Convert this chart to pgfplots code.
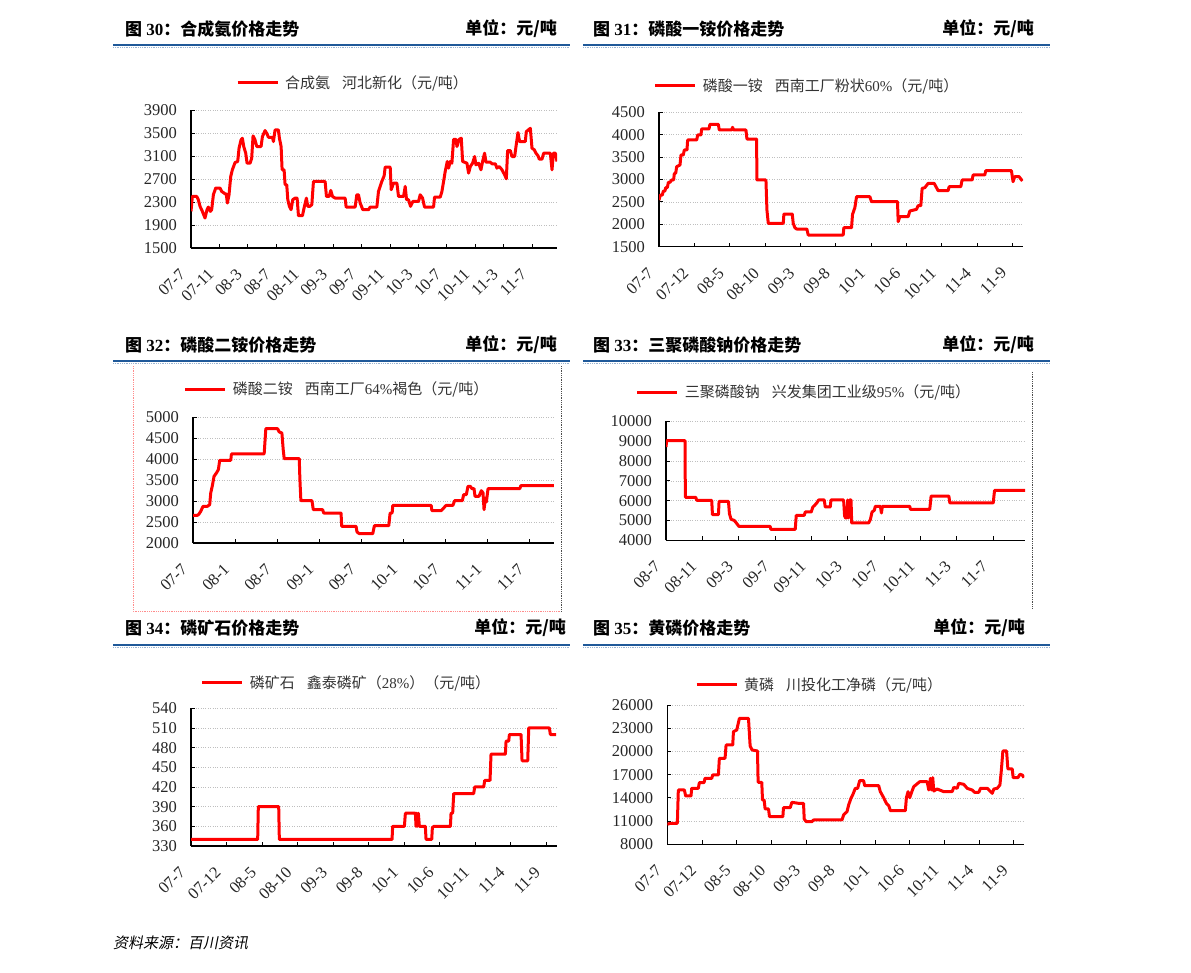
\documentclass[border=0pt]{standalone}
\usepackage{fontspec}
\setmainfont{Liberation Serif}
\newfontfamily\cjk{Noto Sans CJK SC}
\newfontfamily\cjkit{Noto Sans CJK SC}[FakeSlant=0.2]
\usepackage{pgfplots}
\pgfplotsset{compat=1.18}
\definecolor{hdrblue}{RGB}{31,89,153}
\definecolor{sred}{RGB}{255,0,0}

\newcommand{\hfont}{\fontsize{17}{20}\selectfont\bfseries}
\newcommand{\header}[5]{%
  \node[anchor=west, inner sep=0pt] at (#1pt,-#2pt) {\hfont{\cjk 图}\hspace{0.25em}#3{\cjk ：#4}};
  \node[anchor=east, inner sep=0pt] at (#5pt,-#2pt) {\hfont\cjk 单位：元/吨};
}

\pgfplotsset{
  pc/.style={
    scale only axis, anchor=south west,
    xmin=0, xmax=51.5,
    axis lines=left,
    axis line style={-, black, line width=1.1pt},
    tick align=inside, major tick length=4pt,
    tick style={black, line width=0.9pt},
    ymajorgrids,
    major grid style={black!25, dotted, line width=0.6pt},
    scaled y ticks=false,
    /pgf/number format/fixed,
    /pgf/number format/1000 sep={},
    /pgf/number format/assume math mode=true,
    tick label style={font=\fontsize{16.5}{18}\selectfont, text=black!85},
    yticklabel style={anchor=east, inner sep=0pt, xshift=-14pt},
    xticklabel style={xshift=-8.5pt, yshift=-23.5pt, rotate=45, anchor=east, inner sep=0pt},
    legend style={draw=none, fill=none, inner sep=0pt, outer sep=0pt, anchor=west,
      font=\fontsize{15}{17}\selectfont, text=black!80, nodes={inner sep=0pt}},
    legend image code/.code={\draw[#1] (0pt,0pt) -- (40pt,0pt); \path (46pt,0pt);},
  },
  ser/.style={sred, line width=3pt, line join=round},
}

\begin{document}
\begin{tikzpicture}
\path[use as bounding box] (0,0) rectangle (1191pt,-972pt);

% headers and rules
\header{125}{29}{30}{合成氨价格走势}{557}
\header{593}{29}{31}{磷酸一铵价格走势}{1034}
\header{125}{345}{32}{磷酸二铵价格走势}{557}
\header{593}{345}{33}{三聚磷酸钠价格走势}{1034}
\header{125}{628}{34}{磷矿石价格走势}{566}
\header{593}{628}{35}{黄磷价格走势}{1025}
\foreach \yy in {45,361,645} {
  \draw[hdrblue, line width=2.5pt] (113pt,-\yy pt) -- (570pt,-\yy pt);
  \draw[hdrblue!45, line width=0.8pt, densely dotted] (113pt,-\yy pt-2.2pt) -- (570pt,-\yy pt-2.2pt);
  \draw[hdrblue, line width=2.5pt] (583pt,-\yy pt) -- (1050pt,-\yy pt);
  \draw[hdrblue!45, line width=0.8pt, densely dotted] (583pt,-\yy pt-2.2pt) -- (1050pt,-\yy pt-2.2pt);
}
\draw[red!45, densely dotted, line width=0.8pt] (133pt,-366pt) -- (133pt,-611pt) -- (561pt,-611pt);
\draw[black!70, densely dotted, line width=0.8pt] (561pt,-366pt) -- (561pt,-611pt);
\draw[black!70, densely dotted, line width=0.8pt] (1032pt,-372pt) -- (1032pt,-608pt);

% Fig 30
\begin{axis}[pc, at={(191pt,-248pt)}, width=366pt, height=138pt,
  ymin=1500, ymax=3900, ytick={1500,1900,...,3900},
  xtick={0,4,...,48},
  xticklabels={07-7,07-11,08-3,08-7,08-11,09-3,09-7,09-11,10-3,10-7,10-11,11-3,11-7},
  legend style={at={(0.123,1.196)}}]
\addplot[ser] coordinates {
(0,2137)(0.19,2397)(0.80,2397)(1.03,2340)(1.27,2224)(1.60,2137)(1.97,2021)(2.25,2166)(2.44,2212)(2.72,2137)(2.91,2166)(3.15,2426)(3.47,2542)(4.08,2542)(4.32,2484)(4.79,2443)(4.95,2443)(5.12,2282)(5.35,2426)(5.59,2744)(5.82,2860)(6.20,2987)(6.57,3005)(6.76,3236)(7.04,3380)(7.23,3409)(7.42,3265)(7.70,3149)(7.89,2975)(8.31,2975)(8.54,3062)(8.73,3449)(9.01,3380)(9.25,3265)(9.86,3265)(10.05,3438)(10.42,3542)(10.66,3495)(10.89,3426)(11.46,3426)(11.60,3351)(11.83,3553)(12.30,3553)(12.44,3409)(12.68,3265)(12.82,2860)(13.10,2860)(13.24,2600)(13.47,2600)(13.62,2340)(13.85,2224)(14.08,2166)(14.32,2340)(14.65,2368)(14.93,2368)(15.12,2062)(15.68,2062)(15.96,2224)(16.24,2368)(16.43,2224)(16.71,2224)(17.00,2253)(17.23,2657)(18.87,2657)(19.06,2397)(19.44,2397)(19.67,2501)(19.91,2397)(20.28,2368)(21.69,2368)(21.83,2212)(23.10,2212)(23.33,2426)(23.57,2426)(23.80,2282)(24.18,2166)(24.98,2166)(25.21,2212)(26.15,2212)(26.38,2484)(26.85,2657)(27.18,2756)(27.32,2906)(28.03,2906)(28.17,2513)(28.50,2628)(28.97,2628)(29.20,2397)(29.91,2397)(30.14,2571)(30.33,2340)(30.61,2340)(30.89,2224)(31.22,2311)(32.02,2311)(32.25,2426)(32.58,2368)(32.86,2212)(34.13,2212)(34.27,2386)(35.07,2386)(35.31,2484)(35.54,2657)(35.77,2831)(36.06,3005)(36.24,2889)(36.48,3005)(36.71,2975)(36.95,3391)(37.28,3391)(37.42,3265)(37.75,3391)(38.03,3409)(38.22,3005)(38.83,2975)(39.06,2802)(39.30,2917)(39.62,2975)(39.91,3091)(40.09,2946)(40.47,2975)(40.80,2860)(41.03,3005)(41.31,3149)(41.50,2993)(42.11,2993)(42.35,2964)(42.82,2964)(43.05,2889)(43.38,2917)(43.76,2860)(44.13,2773)(44.37,2704)(44.55,3195)(44.93,3195)(45.16,3091)(45.54,3091)(45.73,3265)(46.01,3507)(46.24,3351)(47.04,3351)(47.18,3524)(47.75,3582)(47.98,3236)(48.31,3207)(48.54,3149)(48.83,3103)(49.01,3045)(49.39,3045)(49.62,3149)(50.56,3149)(50.80,2860)(50.99,3149)(51.27,3149)(51.50,3005)
};
\addlegendentry{{\cjk 合成氨\hspace{0.8em}河北新化（元/吨）}}
\end{axis}

% Fig 31
\begin{axis}[pc, at={(659pt,-246.7pt)}, width=364pt, height=134.4pt,
  ymin=1500, ymax=4500, ytick={1500,2000,...,4500},
  xtick={0,5,...,50},
  xticklabels={07-7,07-12,08-5,08-10,09-3,09-8,10-1,10-6,10-11,11-4,11-9},
  legend style={at={(-0.014,1.196)}}]
\addplot[ser] coordinates {
(0,2542)(0.19,2654)(0.47,2654)(0.61,2743)(0.85,2743)(0.94,2818)(1.18,2818)(1.32,2937)(1.56,2937)(1.79,2989)(2.07,2989)(2.17,3138)(2.36,3138)(2.50,3287)(2.97,3324)(3.11,3547)(3.44,3547)(3.58,3659)(3.96,3659)(4.05,3882)(5.33,3882)(5.47,3994)(5.94,3994)(6.03,4128)(7.07,4128)(7.21,4232)(8.39,4232)(8.53,4105)(10.27,4105)(10.41,4165)(10.56,4105)(12.30,4105)(12.44,3904)(13.81,3904)(13.85,2989)(15.13,2989)(15.27,2319)(15.46,2021)(17.58,2021)(17.67,2230)(18.85,2230)(18.99,2021)(19.23,1924)(19.46,1895)(20.92,1895)(21.11,1761)(26.06,1761)(26.15,1924)(27.24,1924)(27.38,2222)(27.71,2371)(27.95,2617)(29.83,2617)(30.07,2505)(33.74,2505)(33.84,2058)(34.07,2170)(35.25,2170)(35.49,2297)(36.43,2334)(36.66,2416)(37.04,2416)(37.23,2803)(37.61,2818)(38.08,2914)(38.93,2914)(39.49,2751)(40.90,2751)(41.05,2840)(42.70,2840)(42.88,2989)(44.30,2989)(44.44,3101)(46.09,3101)(46.23,3197)(49.86,3197)(50.09,2952)(50.33,3064)(50.94,3064)(51.41,2967)
};
\addlegendentry{{\cjk 磷酸一铵\hspace{0.8em}西南工厂粉状}60\%{\cjk （元/吨）}}
\end{axis}

% Fig 32
\begin{axis}[pc, at={(193pt,-543pt)}, width=361pt, height=125.7pt,
  ymin=2000, ymax=5000, ytick={2000,2500,...,5000},
  xtick={0,6,...,48},
  xticklabels={07-7,08-1,08-7,09-1,09-7,10-1,10-7,11-1,11-7},
  legend style={at={(-0.025,1.225)}}]
\addplot[ser] coordinates {
(0,2660)(0.62,2660)(0.86,2692)(1.10,2756)(1.43,2875)(2.05,2875)(2.38,2915)(2.53,3193)(2.76,3369)(3.00,3591)(3.34,3671)(3.62,3751)(3.81,3973)(5.39,3973)(5.48,4125)(10.15,4125)(10.39,4729)(12.06,4729)(12.30,4650)(12.68,4626)(12.87,4228)(13.01,4013)(15.16,4013)(15.25,3512)(15.39,3011)(16.97,3011)(17.16,2796)(18.49,2796)(18.64,2716)(21.12,2716)(21.21,2398)(23.26,2398)(23.40,2262)(23.74,2222)(25.64,2222)(25.88,2414)(27.93,2414)(28.12,2716)(28.41,2716)(28.50,2899)(33.98,2899)(34.08,2772)(35.41,2772)(35.89,2859)(36.13,2899)(37.08,2899)(37.32,3011)(38.42,3011)(38.61,3154)(38.99,3154)(39.23,3353)(39.56,3353)(39.80,3297)(40.09,3297)(40.23,3114)(40.80,3114)(41.13,3249)(41.37,3200)(41.52,2796)(41.71,3074)(41.85,2979)(42.09,3297)(46.62,3297)(46.76,3369)(51.48,3369)
};
\addlegendentry{{\cjk 磷酸二铵\hspace{0.8em}西南工厂}64\%{\cjk 褐色（元/吨）}}
\end{axis}

% Fig 33
\begin{axis}[pc, at={(666pt,-540.3pt)}, width=359pt, height=119pt,
  xmin=12,
  ymin=4000, ymax=10000, ytick={4000,5000,...,10000},
  xtick={12,16,...,48},
  xticklabels={08-7,08-11,09-3,09-7,09-11,10-3,10-7,10-11,11-3,11-7},
  legend style={at={(-0.084,1.246)}}]
\addplot[ser] coordinates {
(12,8706)(12.07,9025)(14.09,9025)(14.13,6167)(15.27,6167)(15.38,6016)(17.03,6016)(17.11,5293)(17.77,5293)(17.84,5966)(18.87,5966)(18.98,5344)(19.16,5058)(19.49,5007)(19.71,4890)(20.01,4705)(23.46,4705)(23.53,4554)(26.22,4554)(26.33,5260)(27.21,5260)(27.32,5428)(27.98,5428)(28.16,5680)(28.42,5798)(28.61,5898)(28.79,6033)(29.41,6033)(29.52,5680)(30.07,5680)(30.15,6033)(31.54,6033)(31.65,5226)(31.76,5125)(31.91,5125)(31.99,6033)(32.10,5125)(32.21,6033)(32.36,6033)(32.43,4873)(34.30,4873)(34.49,5058)(34.67,5428)(34.92,5512)(35.03,5714)(35.59,5714)(35.70,5377)(35.81,5714)(38.82,5714)(38.89,5562)(41.02,5562)(41.17,6234)(43.12,6234)(43.23,5882)(48.00,5882)(48.15,6520)(51.5,6520)
};
\addlegendentry{{\cjk 三聚磷酸钠\hspace{0.8em}兴发集团工业级}95\%{\cjk （元/吨）}}
\end{axis}

% Fig 34
\begin{axis}[pc, at={(191pt,-846pt)}, width=365.7pt, height=137.7pt,
  ymin=330, ymax=540, ytick={330,360,...,540},
  xtick={0,5,...,50},
  xticklabels={07-7,07-12,08-5,08-10,09-3,09-8,10-1,10-6,10-11,11-4,11-9},
  legend style={at={(0.027,1.184)}}]
\addplot[ser] coordinates {
(0,340)(9.39,340)(9.48,390)(12.35,390)(12.44,340)(28.31,340)(28.40,360)(30.05,360)(30.19,380)(31.60,380)(31.69,360)(31.78,380)(31.88,360)(32.02,380)(32.16,360)(33.00,360)(33.10,340)(33.90,340)(33.99,358)(34.2,360)(36.53,360)(36.62,380)(36.85,380)(37.00,410)(39.81,410)(39.95,420)(41.22,420)(41.36,430)(42.11,430)(42.25,470)(44.27,470)(44.37,490)(44.74,490)(44.84,500)(46.48,500)(46.62,460)(47.42,460)(47.56,510)(50.47,510)(50.61,500)(51.41,500)
};
\addlegendentry{{\cjk 磷矿石\hspace{0.8em}鑫泰磷矿（}28\%{\cjk ）（元/吨）}}
\end{axis}

% Fig 35
\begin{axis}[pc, at={(667.3pt,-844.3pt)}, width=357pt, height=139.3pt,
  ymin=8000, ymax=26000, ytick={8000,11000,...,26000},
  xtick={0,5,...,50},
  xticklabels={07-7,07-12,08-5,08-10,09-3,09-8,10-1,10-6,10-11,11-4,11-9},
  legend style={at={(0.078,1.144)}}]
\addplot[ser] coordinates {
(0,10585)(0.39,10714)(1.45,10714)(1.59,15020)(2.46,15020)(2.65,14245)(3.42,14245)(3.52,15235)(4.48,15235)(4.62,15967)(5.30,15967)(5.44,16527)(6.41,16527)(6.55,16957)(7.37,16957)(7.51,19110)(8.33,19110)(8.48,20833)(9.44,20833)(9.54,22555)(10.02,22770)(10.40,24278)(11.71,24278)(11.95,20704)(12.24,20187)(13.01,20058)(13.10,16010)(13.63,16010)(13.73,13728)(13.97,13728)(14.11,12565)(14.60,12565)(14.74,11575)(16.67,11575)(16.76,12737)(17.73,12737)(17.97,13427)(18.93,13297)(19.65,13297)(19.75,11274)(20.04,10929)(20.86,10929)(21.10,11144)(25.19,11144)(25.43,11790)(25.92,12221)(26.16,13082)(26.49,13943)(26.78,14460)(27.12,15235)(27.46,15235)(27.75,16225)(28.32,16225)(28.47,15579)(30.49,15579)(30.73,14804)(31.21,14029)(31.60,13297)(31.94,12996)(32.18,12350)(34.34,12350)(34.49,14029)(34.73,14804)(34.97,14029)(35.31,14890)(35.55,15450)(36.13,15881)(36.42,16096)(37.48,16096)(37.72,15020)(37.96,16527)(38.10,15020)(38.29,16613)(38.44,14890)(38.92,15149)(39.88,14804)(41.09,14804)(41.33,15364)(41.81,15235)(42.05,15881)(42.77,15750)(43.26,15235)(43.98,15020)(44.32,14718)(44.94,14718)(45.18,15235)(46.15,15235)(46.53,14890)(46.87,14589)(47.11,15149)(47.59,15235)(47.98,15665)(48.17,17388)(48.41,20058)(48.94,20058)(49.13,17732)(49.76,17732)(49.90,16613)(50.58,16613)(50.87,17044)(51.20,16957)(51.45,16613)
};
\addlegendentry{{\cjk 黄磷\hspace{0.8em}川投化工净磷（元/吨）}}
\end{axis}

% source
\node[anchor=west, inner sep=0pt] at (113pt,-943pt) {\fontsize{15}{17}\selectfont\cjkit 资料来源：百川资讯};
\end{tikzpicture}
\end{document}
